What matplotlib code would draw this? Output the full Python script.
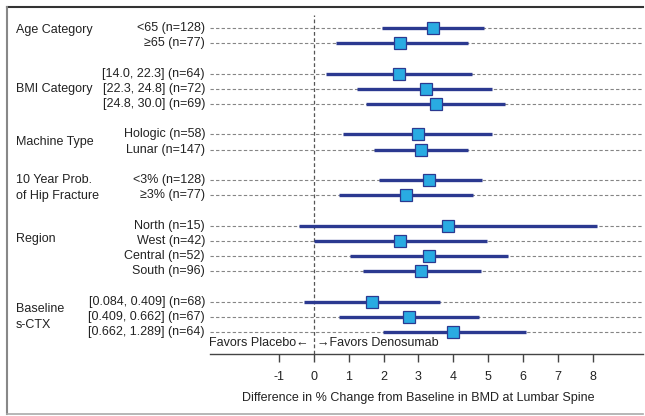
import matplotlib
matplotlib.use('Agg')
import matplotlib.pyplot as plt
from matplotlib.lines import Line2D
import matplotlib.transforms as mtransforms

plt.rcParams['font.family'] = ['Liberation Sans', 'DejaVu Sans']

# subgroup rows (a blank row between groups)
row_labels = ['<65 (n=128)', '≥65 (n=77)', '',
              '[14.0, 22.3] (n=64)', '[22.3, 24.8] (n=72)', '[24.8, 30.0] (n=69)', '',
              'Hologic (n=58)', 'Lunar (n=147)', '',
              '<3% (n=128)', '≥3% (n=77)', '',
              'North (n=15)', 'West (n=42)', 'Central (n=52)', 'South (n=96)', '',
              '[0.084, 0.409] (n=68)', '[0.409, 0.662] (n=67)', '[0.662, 1.289] (n=64)']
estimate = [3.43, 2.47, None,
            2.44, 3.22, 3.50, None,
            2.98, 3.08, None,
            3.30, 2.64, None,
            3.85, 2.48, 3.29, 3.08, None,
            1.66, 2.74, 4.00]
ci_low = [1.95, 0.62, None,
          0.35, 1.25, 1.49, None,
          0.83, 1.72, None,
          1.87, 0.73, None,
          -0.42, -0.01, 1.03, 1.40, None,
          -0.28, 0.72, 1.98]
ci_high = [4.89, 4.41, None,
           4.54, 5.12, 5.47, None,
           5.12, 4.41, None,
           4.82, 4.56, None,
           8.11, 4.96, 5.58, 4.79, None,
           3.62, 4.74, 6.09]

group_labels = ['Age Category', 'BMI Category', 'Machine Type',
                '10 Year Prob.\nof Hip Fracture', 'Region', 'Baseline\ns-CTX']
group_pos = [0.15, 4.0, 7.5, 10.5, 13.9, 19.0]

xticks = [-1, 0, 1, 2, 3, 4, 5, 6, 7, 8]

W, H = 645, 416
fig = plt.figure(figsize=(W / 100, H / 100), dpi=100)
ax = fig.add_axes([210 / W, 1 - 354 / H, 433 / W, (354 - 15) / H])

navy = '#2b3990'
cyan = '#29abe2'
fs = 9

xmin, xmax = -2.98, 9.44
for i, lab in enumerate(row_labels):
    if not lab:
        continue
    ax.hlines(i, xmin, xmax, colors='#858585', linestyles=(0, (3, 2)), lw=0.8, zorder=1)
    ax.hlines(i, ci_low[i], ci_high[i], colors=navy, lw=2.4, zorder=3)
    ax.plot(estimate[i], i, 's', ms=9, mfc=cyan, mec=navy, mew=0.9, zorder=4)

ax.axvline(0, color='#555555', ls=(0, (3, 2)), lw=0.9, zorder=2)

ax.set_xlim(xmin, xmax)
ax.set_ylim(21.45, -0.855)
ax.set_xticks(xticks)
ax.set_xticklabels([str(t) for t in xticks], fontsize=fs, color='#222222')
ax.set_yticks([])
for s in ['top', 'right', 'left']:
    ax.spines[s].set_visible(False)
ax.spines['bottom'].set_color('#444444')
ax.spines['bottom'].set_linewidth(1.0)
ax.tick_params(axis='x', direction='out', length=6, width=1.0, color='#444444', pad=6)

# row labels, right aligned
trans = mtransforms.blended_transform_factory(fig.transFigure, ax.transData)
for i, lab in enumerate(row_labels):
    if lab:
        ax.text(205 / W, i, lab, transform=trans, ha='right', va='center',
                fontsize=fs, color='#222222')
for g, y in zip(group_labels, group_pos):
    ax.text(16 / W, y, g, transform=trans, ha='left', va='center',
            fontsize=fs, color='#222222', linespacing=1.45)

ax.text(-0.15, 20.7, 'Favors Placebo←', ha='right', va='center', fontsize=fs, color='#222222')
ax.text(0.1, 20.7, '→Favors Denosumab', ha='left', va='center', fontsize=fs, color='#222222')

fig.text(418 / W, 1 - 398 / H, 'Difference in % Change from Baseline in BMD at Lumbar Spine',
         ha='center', va='center', fontsize=fs, color='#222222')

# figure frame
fig.add_artist(Line2D([7 / W, 643 / W], [1 - 7 / H, 1 - 7 / H], transform=fig.transFigure,
                      color='#333333', lw=1.5))
fig.add_artist(Line2D([7 / W, 7 / W], [1 - 7 / H, 1 - 414 / H], transform=fig.transFigure,
                      color='#888888', lw=1.5))
fig.add_artist(Line2D([7 / W, 643 / W], [1 - 414 / H, 1 - 414 / H], transform=fig.transFigure,
                      color='#aaaaaa', lw=1.2))

fig.savefig('out.png', dpi=100)
